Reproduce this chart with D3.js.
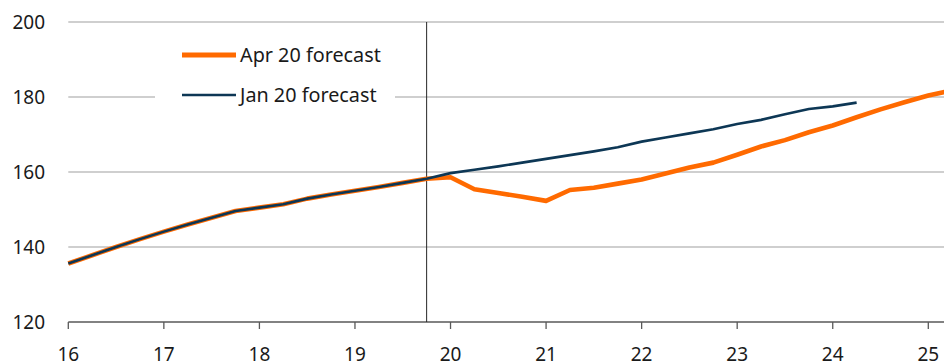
<!DOCTYPE html>
<html>
<head>
<meta charset="utf-8">
<script src="https://cdn.jsdelivr.net/npm/d3@7"></script>
<style>
  body { margin: 0; background: #fff; }
  svg { display: block; font-family: "Noto Sans", "Open Sans", sans-serif; }
</style>
</head>
<body>
<svg id="chart" width="944" height="363"></svg>
<script>
// quarterly points, as decimal years (16 = 2016 Q1)
const aprQuarters = [16, 16.25, 16.5, 16.75, 17, 17.25, 17.5, 17.75, 18, 18.25, 18.5, 18.75,
  19, 19.25, 19.5, 19.75, 20, 20.25, 20.5, 20.75, 21, 21.25, 21.5, 21.75,
  22, 22.25, 22.5, 22.75, 23, 23.25, 23.5, 23.75, 24, 24.25, 24.5, 24.75, 25, 25.25]
const aprValues = [135.6, 137.8, 140.0, 142.1, 144.1, 146.0, 147.8, 149.6, 150.5, 151.4, 152.9, 154.0,
  155.0, 156.0, 157.1, 158.2, 158.6, 155.4, 154.4, 153.4, 152.3, 155.2, 155.8, 156.9,
  158.0, 159.6, 161.2, 162.5, 164.6, 166.8, 168.5, 170.6, 172.4, 174.6, 176.7, 178.6, 180.4, 181.8]

const janQuarters = [16, 16.25, 16.5, 16.75, 17, 17.25, 17.5, 17.75, 18, 18.25, 18.5, 18.75,
  19, 19.25, 19.5, 19.75, 20, 20.25, 20.5, 20.75, 21, 21.25, 21.5, 21.75,
  22, 22.25, 22.5, 22.75, 23, 23.25, 23.5, 23.75, 24, 24.25]
const janValues = [135.6, 137.8, 140.0, 142.1, 144.1, 146.0, 147.8, 149.6, 150.5, 151.4, 152.9, 154.0,
  155.0, 156.0, 157.1, 158.2, 159.7, 160.6, 161.5, 162.5, 163.5, 164.5, 165.5, 166.6,
  168.1, 169.2, 170.3, 171.4, 172.8, 173.9, 175.4, 176.8, 177.5, 178.5]

const yTicks = [120, 140, 160, 180, 200]
const xTicks = [16, 17, 18, 19, 20, 21, 22, 23, 24, 25]
const markerAt = 19.75
const seriesNames = ["Apr 20 forecast", "Jan 20 forecast"]

const width = 944, height = 363
const left = 68.3, right = 944

const svg = d3.select("#chart")

let x = d3.scaleLinear().domain([16, 25]).range([68.3, 928.3])
let y = d3.scaleLinear().domain([120, 200]).range([322, 22])

// gridlines
svg.append("g")
  .selectAll("line")
  .data(yTicks.filter(d => d > 120))
  .enter().append("line")
  .attr("x1", left).attr("x2", right)
  .attr("y1", d => y(d)).attr("y2", d => y(d))
  .attr("stroke", "#bfbfbf")
  .attr("stroke-width", 1.3)

// y labels
svg.append("g")
  .selectAll("text")
  .data(yTicks)
  .enter().append("text")
  .attr("x", 45)
  .attr("y", d => y(d) + 7)
  .attr("text-anchor", "end")
  .attr("font-size", 19)
  .attr("fill", "#1a1a1a")
  .text(d => d)

// x axis
svg.append("line")
  .attr("x1", left).attr("x2", right)
  .attr("y1", y(120)).attr("y2", y(120))
  .attr("stroke", "#595959").attr("stroke-width", 1.3)

svg.append("g")
  .selectAll("line")
  .data(xTicks)
  .enter().append("line")
  .attr("x1", d => x(d)).attr("x2", d => x(d))
  .attr("y1", y(120)).attr("y2", y(120) + 7)
  .attr("stroke", "#595959").attr("stroke-width", 1.3)

// the reference crops these labels at the bottom edge too
svg.append("g")
  .selectAll("text")
  .data(xTicks)
  .enter().append("text")
  .attr("x", d => x(d))
  .attr("y", 361)
  .attr("text-anchor", "middle")
  .attr("font-size", 19)
  .attr("fill", "#1a1a1a")
  .text(d => d)

// forecast date marker
svg.append("line")
  .attr("x1", x(markerAt)).attr("x2", x(markerAt))
  .attr("y1", y(200)).attr("y2", y(120))
  .attr("stroke", "#262626").attr("stroke-width", 1)

let line = d3.line()
  .x(d => x(d[0]))
  .y(d => y(d[1]))

svg.append("path")
  .datum(d3.zip(aprQuarters, aprValues))
  .attr("d", line)
  .attr("fill", "none")
  .attr("stroke", "#ff6a00")
  .attr("stroke-width", 4.6)
  .attr("stroke-linejoin", "round")

svg.append("path")
  .datum(d3.zip(janQuarters, janValues))
  .attr("d", line)
  .attr("fill", "none")
  .attr("stroke", "#0d3755")
  .attr("stroke-width", 2.6)
  .attr("stroke-linejoin", "round")

// legend
let legend = svg.append("g")
legend.append("rect")
  .attr("x", 155).attr("y", 36).attr("width", 240).attr("height", 78)
  .attr("fill", "#fff")

const legendColors = ["#ff6a00", "#0d3755"]
const legendWidths = [5, 2.6]
seriesNames.forEach((name, i) => {
  let ly = 55 + i * 40
  legend.append("line")
    .attr("x1", 182).attr("x2", 236)
    .attr("y1", ly).attr("y2", ly)
    .attr("stroke", legendColors[i])
    .attr("stroke-width", legendWidths[i])
  legend.append("text")
    .attr("x", 240)
    .attr("y", ly + 7)
    .attr("font-size", 19.8)
    .attr("fill", "#1a1a1a")
    .text(name)
})
</script>
</body>
</html>
